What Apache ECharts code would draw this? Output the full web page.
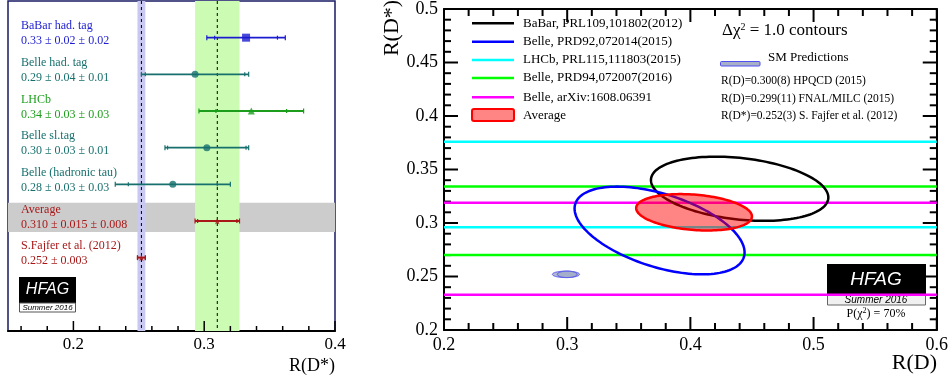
<!DOCTYPE html>
<html>
<head>
<meta charset="utf-8">
<script src="https://cdn.jsdelivr.net/npm/echarts@6.0.0/dist/echarts.min.js"></script>
<style>
  html, body { margin: 0; padding: 0; background: #fff; }
  #chart { width: 951px; height: 383px; }
</style>
</head>
<body>
<div id="chart"></div>
<script>
// left panel: R(D*) measurements
const rowNames = ['BaBar had. tag', 'Belle had. tag', 'LHCb', 'Belle sl.tag', 'Belle (hadronic tau)', 'Average', 'S.Fajfer et al. (2012)'];
const rowTexts = ['0.33 \u00b1 0.02 \u00b1 0.02', '0.29 \u00b1 0.04 \u00b1 0.01', '0.34 \u00b1 0.03 \u00b1 0.03', '0.30 \u00b1 0.03 \u00b1 0.01', '0.28 \u00b1 0.03 \u00b1 0.03', '0.310 \u00b1 0.015 \u00b1 0.008', '0.252 \u00b1 0.003'];
const rdsCentral = [0.332, 0.293, 0.336, 0.302, 0.276, 0.310, 0.252];
const rdsStat = [0.024, 0.038, 0.027, 0.030, 0.034, 0.015, 0.003];
const rdsTotal = [0.030, 0.041, 0.040, 0.032, 0.044, 0.017, 0.003];
const rowColors = ['#1c1cd0', '#17706e', '#1c9e1c', '#17706e', '#17706e', '#a81818', '#a81818'];
const rowSymbols = ['rect', 'circle', 'triangle', 'circle', 'circle', 'star', 'star'];

// tick marks
const leftMajorTicks = [0.2, 0.3, 0.4];
const leftMinorTicks = [0.16, 0.18, 0.22, 0.24, 0.26, 0.28, 0.32, 0.34, 0.36, 0.38];
const rdMajorTicks = [0.2, 0.3, 0.4, 0.5, 0.6];
const rdMinorTicks = [0.22, 0.24, 0.26, 0.28, 0.32, 0.34, 0.36, 0.38, 0.42, 0.44, 0.46, 0.48, 0.52, 0.54, 0.56, 0.58];
const rdsMajorTicks = [0.2, 0.25, 0.3, 0.35, 0.4, 0.45, 0.5];
const rdsMinorTicks = [0.21, 0.22, 0.23, 0.24, 0.26, 0.27, 0.28, 0.29, 0.31, 0.32, 0.33, 0.34, 0.36, 0.37, 0.38, 0.39, 0.41, 0.42, 0.43, 0.44, 0.46, 0.47, 0.48, 0.49];

// right panel: 2D contours (R(D), R(D*))
const contourNames = ['BaBar, PRL109,101802(2012)', 'Belle, PRD92,072014(2015)', 'Average'];
const contourColors = ['#000000', '#0000ff', '#ff0000'];
const rdCentral = [0.440, 0.375, 0.403];
const rdSigma = [0.072, 0.069, 0.047];
const rdsCentral2 = [0.332, 0.293, 0.310];
const rdsSigma2 = [0.030, 0.041, 0.017];
const corr = [-0.27, -0.50, -0.23];

// right panel: R(D*)-only bands
const bandNames = ['LHCb, PRL115,111803(2015)', 'Belle, PRD94,072007(2016)', 'Belle, arXiv:1608.06391'];
const bandColors = ['#00ffff', '#00ff00', '#ff00ff'];
const bandCentral = [0.336, 0.302, 0.276];
const bandSigma = [0.040, 0.032, 0.043];

// SM predictions
const smRd = [0.299, 0.300];
const smRdSigma = [0.011, 0.008];
const smRds = [0.252, 0.252];
const smRdsSigma = [0.003, 0.003];

const serif = '"Liberation Serif", "DejaVu Serif", serif';
const starPath = 'path://M0,-10L2.35,-3.24L9.51,-3.09L3.8,1.24L5.88,8.09L0,4L-5.88,8.09L-3.8,1.24L-9.51,-3.09L-2.35,-3.24Z';
const chart = echarts.init(document.getElementById('chart'));

function ellipse(api, mx, sx, my, sy, r) {
  const pts = [];
  const k = Math.sqrt(1 - r * r);
  for (let i = 0; i <= 144; i++) {
    const t = i / 144 * 2 * Math.PI;
    pts.push(api.coord([mx + sx * Math.cos(t), my + sy * (r * Math.cos(t) + k * Math.sin(t))]));
  }
  return pts;
}

// inward ticks along the frame of a grid, using the axis scales via api.coord
function frameTicks(api, cs, xMajor, xMinor, yMajor, yMinor, yRef, xRef, lens, lw, mirror) {
  const out = [];
  const line = (x1, y1, x2, y2) => ({ type: 'line', shape: { x1: x1, y1: y1, x2: x2, y2: y2 }, style: { stroke: '#000', lineWidth: lw } });
  const bottom = cs.y + cs.height, top = cs.y, left = cs.x, right = cs.x + cs.width;
  [[xMajor, lens[0]], [xMinor, lens[1]]].forEach(([vals, len]) => vals.forEach(v => {
    const x = api.coord([v, yRef])[0];
    out.push(line(x, bottom, x, bottom - len));
    if (mirror) out.push(line(x, top, x, top + len));
  }));
  [[yMajor, lens[2]], [yMinor, lens[3]]].forEach(([vals, len]) => vals.forEach(v => {
    const y = api.coord([xRef, v])[1];
    out.push(line(left, y, left + len, y));
    if (mirror) out.push(line(right, y, right - len, y));
  }));
  return out;
}

const rightLine = { onZero: false, lineStyle: { color: '#000', width: 2 } };
const noTick = { axisTick: { show: false }, minorTick: { show: false }, splitLine: { show: false } };

const option = {
  animation: false,
  backgroundColor: '#fff',
  grid: [
    { left: 8, top: 1, width: 327, height: 330, show: true, borderColor: '#1a1a66', borderWidth: 1.5, backgroundColor: 'transparent' },
    { left: 444, top: 5, width: 494, height: 325, show: false }
  ],
  xAxis: [
    Object.assign({
      gridIndex: 0, type: 'value', min: 0.15, max: 0.4,
      axisLine: { onZero: false, lineStyle: { color: '#000', width: 2 } },
      axisLabel: { customValues: leftMajorTicks, color: '#000', fontFamily: serif, fontSize: 17, margin: 5, formatter: v => v.toFixed(1) }
    }, noTick),
    Object.assign({
      gridIndex: 1, type: 'value', min: 0.2, max: 0.6, interval: 0.1,
      axisLine: rightLine,
      axisLabel: { color: '#000', fontFamily: serif, fontSize: 18, margin: 6, formatter: v => String(+v.toFixed(2)) }
    }, noTick),
    Object.assign({
      gridIndex: 1, type: 'value', position: 'top', min: 0.2, max: 0.6, interval: 0.1,
      axisLine: rightLine, axisLabel: { show: false }
    }, noTick)
  ],
  yAxis: [
    { gridIndex: 0, type: 'value', min: -1, max: 8, inverse: true, show: false, splitLine: { show: false } },
    Object.assign({
      gridIndex: 1, type: 'value', min: 0.2, max: 0.5, interval: 0.05,
      axisLine: rightLine,
      axisLabel: { color: '#000', fontFamily: serif, fontSize: 18, margin: 6, formatter: v => String(+v.toFixed(2)) }
    }, noTick),
    Object.assign({
      gridIndex: 1, type: 'value', position: 'right', min: 0.2, max: 0.5, interval: 0.05,
      axisLine: rightLine, axisLabel: { show: false }
    }, noTick)
  ],
  series: [
    // grey average row + SM and average vertical bands + bottom ticks
    {
      type: 'custom', xAxisIndex: 0, yAxisIndex: 0, z: 1, silent: true,
      data: [[rdsCentral[5], 5]],
      renderItem(params, api) {
        const cs = params.coordSys;
        const avg = rdsCentral[5], avgErr = rdsTotal[5];
        const sm = rdsCentral[6], smErr = rdsTotal[6];
        const r0 = api.coord([avg, 4.5])[1], r1 = api.coord([avg, 5.3])[1];
        const a0 = api.coord([avg - avgErr, 0])[0], a1 = api.coord([avg + avgErr, 0])[0];
        const s0 = api.coord([sm - smErr, 0])[0], s1 = api.coord([sm + smErr, 0])[0];
        const ax = api.coord([avg, 0])[0], sx = api.coord([sm, 0])[0];
        return {
          type: 'group',
          children: [
            { type: 'rect', shape: { x: cs.x, y: r0, width: cs.width, height: r1 - r0 }, style: { fill: '#cccccc' } },
            { type: 'rect', shape: { x: a0, y: cs.y, width: a1 - a0, height: cs.height }, style: { fill: '#ccfcb4' } },
            { type: 'rect', shape: { x: s0, y: cs.y, width: s1 - s0, height: cs.height }, style: { fill: '#c8c8f2' } },
            { type: 'line', shape: { x1: ax, y1: cs.y, x2: ax, y2: cs.y + cs.height }, style: { stroke: '#000', lineWidth: 1, lineDash: [3, 3] } },
            { type: 'line', shape: { x1: sx, y1: cs.y, x2: sx, y2: cs.y + cs.height }, style: { stroke: '#000', lineWidth: 1, lineDash: [3, 3] } }
          ].concat(frameTicks(api, cs, leftMajorTicks, leftMinorTicks, [], [], 3, 0.3, [10, 5, 0, 0], 1.5, false))
        };
      }
    },
    // error bars and labels
    {
      type: 'custom', xAxisIndex: 0, yAxisIndex: 0, z: 3, silent: true,
      data: rdsCentral.map((c, i) => [c, i]),
      renderItem(params, api) {
        const i = api.value(1);
        const c = rdsCentral[i], st = rdsStat[i], tot = rdsTotal[i];
        const col = rowColors[i];
        const y = api.coord([c, i])[1];
        const lo = api.coord([c - tot, i])[0], hi = api.coord([c + tot, i])[0];
        const slo = api.coord([c - st, i])[0], shi = api.coord([c + st, i])[0];
        const tx = params.coordSys.x + 13;
        const tick = (x, h) => ({ type: 'rect', shape: { x: x - 0.6, y: y - h, width: 1.2, height: 2 * h }, style: { fill: col } });
        return {
          type: 'group',
          children: [
            { type: 'line', shape: { x1: lo, y1: y, x2: hi, y2: y }, style: { stroke: col, lineWidth: 1.8 } },
            tick(lo, 2.5), tick(hi, 2.5), tick(slo, 2), tick(shi, 2),
            { type: 'text', style: { text: rowNames[i], x: tx, y: y - 11.5, fill: col, font: '12px ' + serif, verticalAlign: 'middle' } },
            { type: 'text', style: { text: rowTexts[i], x: tx, y: y + 3.5, fill: col, font: '12px ' + serif, verticalAlign: 'middle' } }
          ]
        };
      }
    },
    {
      type: 'scatter', xAxisIndex: 0, yAxisIndex: 0, z: 4, silent: true,
      data: rdsCentral.map((c, i) => ({
        value: [c, i],
        symbol: rowSymbols[i] === 'star' ? starPath : rowSymbols[i],
        symbolSize: rowSymbols[i] === 'star' ? 7 : (i === 0 ? 8 : 7),
        itemStyle: { color: rowColors[i] }
      }))
    },
    // right panel: horizontal R(D*) bands, plus the frame ticks with the first band
    {
      type: 'custom', xAxisIndex: 1, yAxisIndex: 1, z: 2, silent: true,
      data: bandCentral.map((c, i) => [0.4, c, i]),
      renderItem(params, api) {
        const i = api.value(2);
        const cs = params.coordSys;
        const ys = [bandCentral[i] - bandSigma[i], bandCentral[i] + bandSigma[i]].map(v => api.coord([0.4, v])[1]);
        let kids = ys.map(y => ({ type: 'line', shape: { x1: cs.x, y1: y, x2: cs.x + cs.width, y2: y }, style: { stroke: bandColors[i], lineWidth: 2.5 } }));
        if (i === 0) kids = kids.concat(frameTicks(api, cs, rdMajorTicks, rdMinorTicks, rdsMajorTicks, rdsMinorTicks, 0.35, 0.4, [13, 7, 14, 7], 2, true));
        return { type: 'group', children: kids };
      }
    },
    // right panel: contours
    {
      type: 'custom', xAxisIndex: 1, yAxisIndex: 1, z: 3, silent: true, clip: true,
      data: rdCentral.map((c, i) => [c, rdsCentral2[i], i]),
      renderItem(params, api) {
        const i = api.value(2);
        const pts = ellipse(api, rdCentral[i], rdSigma[i], rdsCentral2[i], rdsSigma2[i], corr[i]);
        const isAvg = i === 2;
        return {
          type: 'polygon', shape: { points: pts },
          style: { fill: isAvg ? 'rgba(255,0,0,0.48)' : 'none', stroke: contourColors[i], lineWidth: 2.5 }
        };
      }
    },
    // SM predictions
    {
      type: 'custom', xAxisIndex: 1, yAxisIndex: 1, z: 3, silent: true, clip: true,
      data: smRd.map((c, i) => [c, smRds[i], i]),
      renderItem(params, api) {
        const i = api.value(2);
        const pts = ellipse(api, smRd[i], smRdSigma[i], smRds[i], smRdsSigma[i], 0);
        return { type: 'polygon', shape: { points: pts }, style: { fill: 'rgba(160,170,200,0.8)', stroke: '#5050f0', lineWidth: 1 } };
      }
    }
  ],
  graphic: [
    // axis titles
    { type: 'text', x: 335, y: 366, style: { text: 'R(D*)', font: '18px ' + serif, fill: '#000', align: 'right', verticalAlign: 'middle' } },
    { type: 'text', x: 937, y: 363, style: { text: 'R(D)', font: '22px ' + serif, fill: '#000', align: 'right', verticalAlign: 'middle' } },
    { type: 'text', x: 392, y: 28, rotation: Math.PI / 2, style: { text: 'R(D*)', font: '22px ' + serif, fill: '#000', align: 'center', verticalAlign: 'middle' } },
    // left HFAG logo
    { type: 'rect', shape: { x: 19, y: 277, width: 57, height: 26 }, style: { fill: '#000' } },
    { type: 'rect', shape: { x: 19.5, y: 303, width: 56, height: 9 }, style: { fill: '#fff', stroke: '#555', lineWidth: 1 } },
    { type: 'text', x: 47.5, y: 290, style: { text: 'HFAG', font: 'italic 16px "Liberation Sans", sans-serif', fill: '#fff', align: 'center', verticalAlign: 'middle' } },
    { type: 'text', x: 47.5, y: 308, style: { text: 'Summer 2016', font: 'italic 8px "Liberation Sans", sans-serif', fill: '#000', align: 'center', verticalAlign: 'middle' } },
    // right legend
    ...contourNames.slice(0, 2).concat(bandNames).map((name, k) => {
      const col = k < 2 ? contourColors[k] : bandColors[k - 2];
      const y = [23.3, 41.7, 60, 78, 97.3][k];
      return { type: 'group', children: [
        { type: 'line', shape: { x1: 472, y1: y, x2: 514, y2: y }, style: { stroke: col, lineWidth: 2.5 } },
        { type: 'text', x: 523, y: y, style: { text: name, font: '13px ' + serif, fill: '#000', verticalAlign: 'middle' } }
      ] };
    }),
    { type: 'rect', shape: { x: 472, y: 109, width: 42, height: 12, r: 2 }, style: { fill: 'rgba(255,0,0,0.48)', stroke: '#ff0000', lineWidth: 2 } },
    { type: 'text', x: 523, y: 116, style: { text: contourNames[2], font: '13px ' + serif, fill: '#000', verticalAlign: 'middle' } },
    // right info box
    { type: 'text', x: 722, y: 31, style: { text: '{a|\u0394\u03c7}{s|2}{a| = 1.0 contours}', fill: '#000', verticalAlign: 'middle', rich: { a: { font: '17px ' + serif, fill: '#000' }, s: { font: '10px ' + serif, fill: '#000', verticalAlign: 'top', padding: [0, 0, 8, 0] } } } },
    { type: 'rect', shape: { x: 720.5, y: 61.5, width: 39.5, height: 4.5, r: 1 }, style: { fill: '#a8b0c8', stroke: '#5050f0', lineWidth: 1 } },
    { type: 'text', x: 768, y: 58, style: { text: 'SM Predictions', font: '13px ' + serif, fill: '#000', verticalAlign: 'middle' } },
    { type: 'text', x: 721, y: 81, style: { text: 'R(D)=0.300(8) HPQCD (2015)', font: '11.5px ' + serif, fill: '#000', verticalAlign: 'middle' } },
    { type: 'text', x: 721, y: 99, style: { text: 'R(D)=0.299(11) FNAL/MILC (2015)', font: '11.5px ' + serif, fill: '#000', verticalAlign: 'middle' } },
    { type: 'text', x: 721, y: 116, style: { text: 'R(D*)=0.252(3) S. Fajfer et al. (2012)', font: '11.5px ' + serif, fill: '#000', verticalAlign: 'middle' } },
    // right HFAG logo
    { type: 'rect', shape: { x: 827, y: 264, width: 99, height: 31 }, style: { fill: '#000' } },
    { type: 'rect', shape: { x: 827.5, y: 295, width: 98, height: 10 }, style: { fill: '#f0f0f0', stroke: '#666', lineWidth: 1 } },
    { type: 'text', x: 876, y: 280, style: { text: 'HFAG', font: 'italic 19px "Liberation Sans", sans-serif', fill: '#fff', align: 'center', verticalAlign: 'middle' } },
    { type: 'text', x: 876, y: 300.5, style: { text: 'Summer 2016', font: 'italic 10px "Liberation Sans", sans-serif', fill: '#000', align: 'center', verticalAlign: 'middle' } },
    { type: 'text', x: 876, y: 313.5, style: { text: '{a|P(\u03c7}{s|2}{a|) = 70%}', fill: '#000', align: 'center', verticalAlign: 'middle', rich: { a: { font: '12px ' + serif, fill: '#000' }, s: { font: '8px ' + serif, fill: '#000', verticalAlign: 'top', padding: [0, 0, 5, 0] } } } }
  ]
};

chart.setOption(option);
</script>
</body>
</html>
